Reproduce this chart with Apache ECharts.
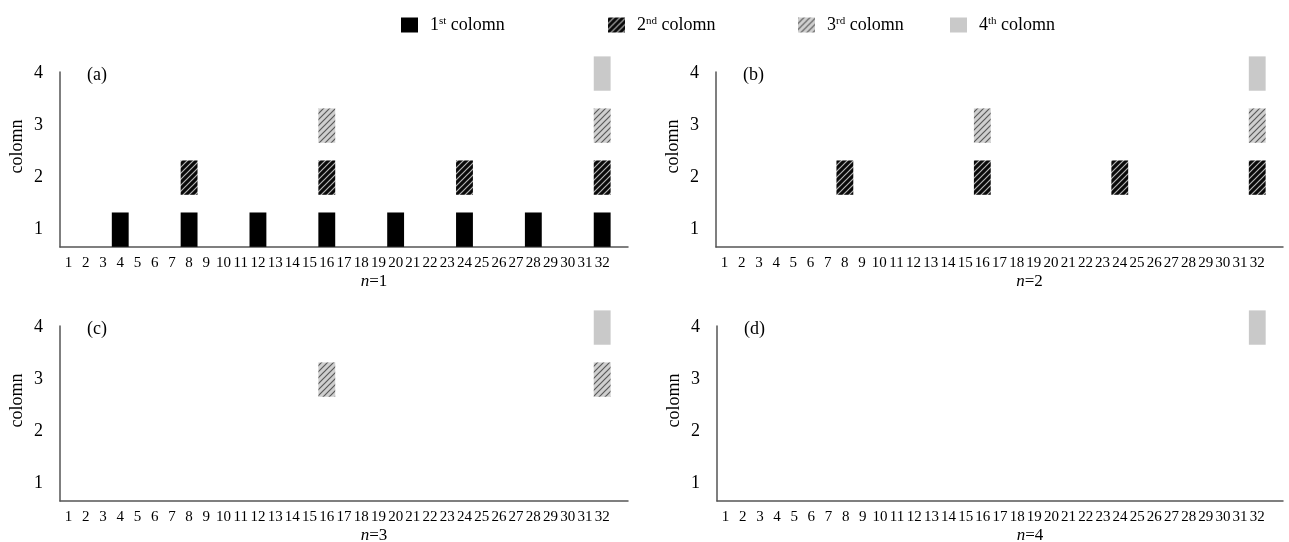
<!DOCTYPE html>
<html>
<head>
<meta charset="utf-8">
<script src="https://cdn.jsdelivr.net/npm/echarts@6/dist/echarts.min.js"></script>
<style>
  html, body { margin: 0; padding: 0; background: #fff; }
  #chart1 { width: 1289px; height: 542px; }
</style>
</head>
<body>
<div id="chart1"></div>
<script>
// data
var categories = [];
for (var c = 1; c <= 32; c++) categories.push(String(c));
categories.push('');   // empty slot so the axis runs a bit past 32

var yTicks = [1, 2, 3, 4];
var levelNames = ['1st colomn', '2nd colomn', '3rd colomn', '4th colomn'];
var legendSup = ['st', 'nd', 'rd', 'th'];
var panelLabels = ['(a)', '(b)', '(c)', '(d)'];
var nValues = [1, 2, 3, 4];

// positions filled in each column, per panel
var panelN1 = [[4, 8, 12, 16, 20, 24, 28, 32], [8, 16, 24, 32], [16, 32], [32]];
var panelN2 = [[], [8, 16, 24, 32], [16, 32], [32]];
var panelN3 = [[], [], [16, 32], [32]];
var panelN4 = [[], [], [], [32]];
var panels = [panelN1, panelN2, panelN3, panelN4];

// hatch patterns
function hatch(bg, line) {
    var cv = document.createElement('canvas');
    cv.width = 6; cv.height = 6;
    var ctx = cv.getContext('2d');
    ctx.fillStyle = bg;
    ctx.fillRect(0, 0, 6, 6);
    ctx.strokeStyle = line;
    ctx.lineWidth = 1.2;
    ctx.beginPath();
    ctx.moveTo(-1, 7); ctx.lineTo(7, -1);
    ctx.moveTo(-4, 4); ctx.lineTo(4, -4);
    ctx.moveTo(2, 10); ctx.lineTo(10, 2);
    ctx.stroke();
    return { image: cv, repeat: 'repeat' };
}
var fills = ['#000000', hatch('#0a0a0a', '#b5b5b5'), hatch('#cfcfcf', '#5a5a5a'), '#c9c9c9'];

var FONT = 'Liberation Serif';

// grid boxes: left, right, top, bottom
var grids = [
    { left: 60, right: 661, top: 72, bottom: 295, outerBoundsMode: 'none' },
    { left: 716, right: 6, top: 72, bottom: 295, outerBoundsMode: 'none' },
    { left: 60, right: 661, top: 326, bottom: 41, outerBoundsMode: 'none' },
    { left: 717, right: 6, top: 326, bottom: 41, outerBoundsMode: 'none' }
];

var chart1 = echarts.init(document.getElementById('chart1'));

var xAxes = [], yAxes = [], series = [], graphics = [], legends = [];

grids.forEach(function (g, i) {
    xAxes.push({
        type: 'category',
        gridIndex: i,
        data: categories,
        boundaryGap: true,
        name: '{i|n}=' + nValues[i],
        nameLocation: 'middle',
        nameGap: 26,
        nameTextStyle: {
            fontFamily: FONT, fontSize: 17, color: '#000', padding: [0, 0, 0, 60],
            rich: { i: { fontFamily: FONT, fontSize: 17, fontStyle: 'italic', color: '#000' } }
        },
        axisLine: { lineStyle: { color: '#555', width: 1.5 } },
        axisTick: { show: false },
        axisLabel: { interval: 0, margin: 9, fontFamily: FONT, fontSize: 15, color: '#000' },
        splitLine: { show: false }
    });
    yAxes.push({
        type: 'value',
        gridIndex: i,
        min: 2 / 3,
        max: 4.03,
        name: 'colomn',
        nameLocation: 'middle',
        nameGap: 34,
        nameTextStyle: { fontFamily: FONT, fontSize: 18, color: '#000', padding: [0, 0, 0, 26] },
        axisLine: { show: true, lineStyle: { color: '#555', width: 1.5 } },
        axisTick: { show: false },
        axisLabel: { customValues: yTicks, margin: 17, fontFamily: FONT, fontSize: 18, color: '#000' },
        splitLine: { show: false }
    });

    panels[i].forEach(function (xs, lv) {
        series.push({
            type: 'custom',
            name: levelNames[lv],
            xAxisIndex: i,
            yAxisIndex: i,
            clip: false,
            itemStyle: { color: fills[lv] },
            data: xs.map(function (x) { return [String(x), lv + 1]; }),
            renderItem: function (params, api) {
                var xi = api.value(0), level = api.value(1);
                var p0 = api.coord([xi, level - 0.33]);
                var p1 = api.coord([xi, level + 0.33]);
                var w = api.size([1, 0])[0] * 0.98;
                return {
                    type: 'rect',
                    shape: { x: p0[0] - w / 2, y: p1[1], width: w, height: p0[1] - p1[1] },
                    style: { fill: fills[level - 1] }
                };
            }
        });
    });

    graphics.push({
        type: 'text',
        left: g.left + 27,
        top: g.top - 6,
        style: { text: panelLabels[i], font: '18px "' + FONT + '"', fill: '#000' }
    });
});

// legend, one component per item
var legendLeft = [396, 603, 793, 945];
levelNames.forEach(function (name, k) {
    legends.push({
        data: [name],
        left: legendLeft[k],
        top: 11,
        icon: 'rect',
        itemWidth: 17,
        itemHeight: 15,
        selectedMode: false,
        formatter: function (n) {
            return '{n|' + n.charAt(0) + '}{s|' + legendSup[k] + '}{n| colomn}';
        },
        textStyle: {
            padding: [0, 0, 0, 7],
            rich: {
                n: { fontFamily: FONT, fontSize: 18, color: '#000' },
                s: { fontFamily: FONT, fontSize: 11, color: '#000', verticalAlign: 'top', padding: [0, 0, 6, 0] }
            }
        }
    });
});

var option = {
    animation: false,
    backgroundColor: '#fff',
    legend: legends,
    grid: grids,
    xAxis: xAxes,
    yAxis: yAxes,
    series: series,
    graphic: graphics
};

chart1.setOption(option);
</script>
</body>
</html>
